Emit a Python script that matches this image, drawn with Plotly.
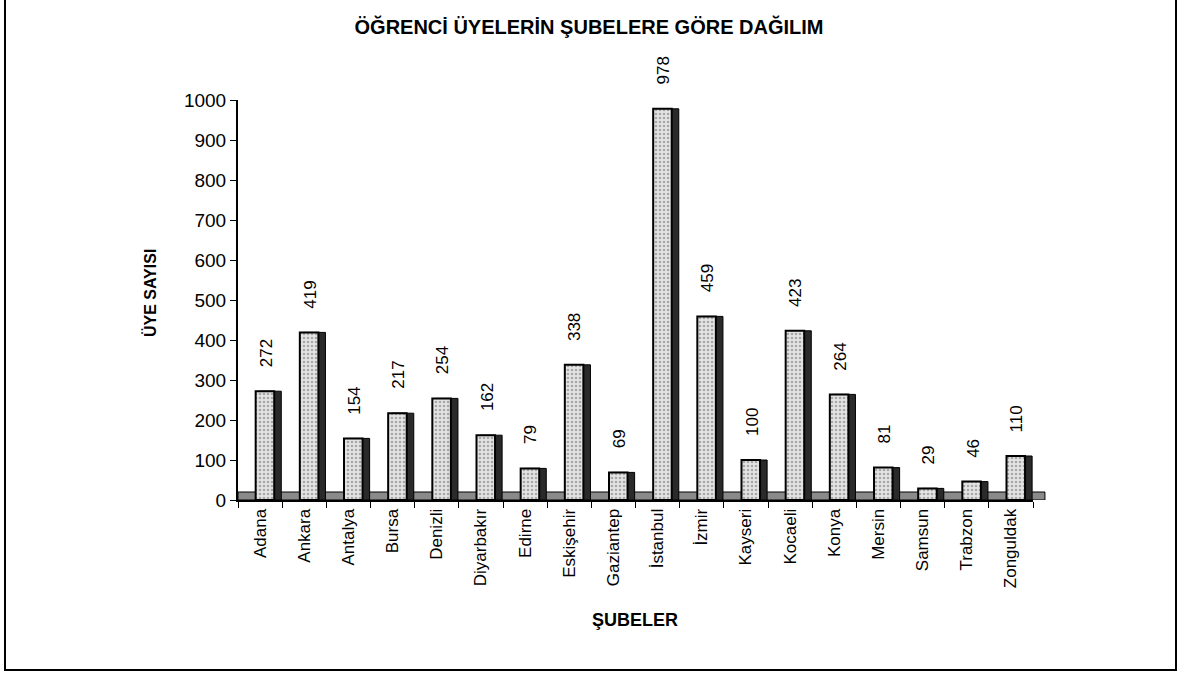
import plotly.graph_objects as go

categories = ["Adana", "Ankara", "Antalya", "Bursa", "Denizli", "Diyarbakır", "Edirne",
              "Eskişehir", "Gaziantep", "İstanbul", "İzmir", "Kayseri", "Kocaeli", "Konya",
              "Mersin", "Samsun", "Trabzon", "Zonguldak"]
values = [272, 419, 154, 217, 254, 162, 79, 338, 69, 978, 459, 100, 423, 264, 81, 29, 46, 110]
y_ticks = list(range(0, 1001, 100))

FONT = "Liberation Sans Narrow, Arial Narrow, Liberation Sans, Arial"
BOLD = "Liberation Sans, Arial"

# plot area in pixels
L, R, T, B = 238, 1033, 100, 500
W, H = 1178, 675
pw, ph = R - L, B - T

def px(x):
    return (x - L) / pw

def py(y):
    return (B - y) / ph

fig = go.Figure()
# depth/side shading
fig.add_trace(go.Bar(
    x=categories, y=values, width=0.5, offset=-0.02,
    marker=dict(color="#2a2a2a", line=dict(color="black", width=1)),
    hoverinfo="skip", showlegend=False,
))
fig.add_trace(go.Bar(
    x=categories, y=values, width=0.42, offset=-0.1,
    marker=dict(color="#d8d8d8", line=dict(color="black", width=2),
                pattern=dict(shape=".", fgcolor="#6a6a6a", bgcolor="#e4e4e4", size=4, solidity=0.35)),
    showlegend=False,
))

value_labels = [
    dict(x=c, y=v, xref="x", yref="y", text=str(v), showarrow=False, textangle=-90,
         xanchor="center", yanchor="bottom", xshift=6, yshift=22,
         font=dict(family=FONT, size=17, color="black"))
    for c, v in zip(categories, values)
]

fig.update_layout(
    width=W, height=H,
    paper_bgcolor="white", plot_bgcolor="white",
    barmode="overlay",
    margin=dict(l=L, r=W - R, t=T, b=H - B),
    title=dict(text="<b>ÖĞRENCİ ÜYELERİN ŞUBELERE GÖRE DAĞILIM</b>", x=0.5, xanchor="center",
               y=1 - 27 / H, yanchor="middle",
               font=dict(family=BOLD, size=20, color="black")),
    xaxis=dict(showline=True, linecolor="black", linewidth=2, ticks="outside", tickcolor="black",
               ticklen=6, tickson="boundaries", tickangle=-90, showgrid=False,
               tickfont=dict(family=FONT, size=17, color="black")),
    yaxis=dict(range=[0, 1000], tickvals=y_ticks, showline=True, linecolor="black", linewidth=2,
               ticks="outside", tickcolor="black", ticklen=6, showgrid=False, zeroline=False,
               tickfont=dict(family=FONT, size=19, color="black")),
    annotations=value_labels + [
        dict(text="<b>ÜYE SAYISI</b>", x=px(150), y=py(293), xref="paper", yref="paper",
             showarrow=False, textangle=-90, xanchor="center", yanchor="middle",
             font=dict(family=BOLD, size=16, color="black")),
        dict(text="<b>ŞUBELER</b>", x=px(635), y=py(620), xref="paper", yref="paper",
             showarrow=False, xanchor="center", yanchor="middle",
             font=dict(family=BOLD, size=18, color="black")),
    ],
    shapes=[
        dict(type="rect", xref="paper", yref="paper", x0=px(5), x1=px(1176),
             y0=py(670), y1=py(-3), line=dict(color="black", width=2)),
        dict(type="rect", xref="paper", yref="y", x0=0, x1=1.015, y0=0, y1=20, layer="below",
             fillcolor="#8a8a8a", line=dict(color="black", width=1)),
    ],
)

fig.write_html("out.html", config={"displayModeBar": False},
               post_script="document.body.style.margin='0';document.body.style.overflow='hidden';")
